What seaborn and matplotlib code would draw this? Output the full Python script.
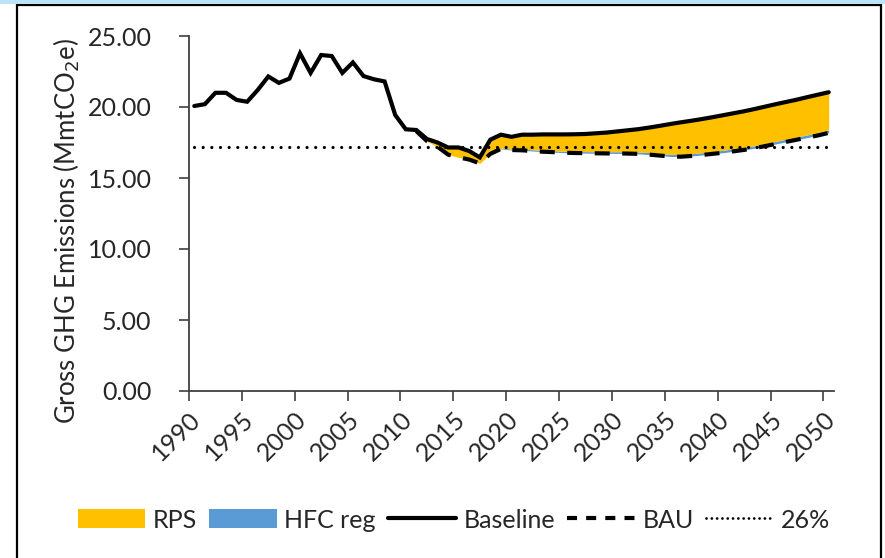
import numpy as np
import pandas as pd
import matplotlib
matplotlib.use("Agg")
import matplotlib.pyplot as plt
from matplotlib.patches import Rectangle, Patch
from matplotlib.lines import Line2D
import seaborn as sns

years = list(range(1990, 2051))

baseline = [20.07, 20.2, 21.0, 21.0, 20.5, 20.37, 21.2, 22.15, 21.7, 22.0,
            23.78, 22.4, 23.66, 23.59, 22.4, 23.14, 22.18, 21.95, 21.8, 19.44,
            18.43, 18.38, 17.75, 17.5, 17.15, 17.15, 16.9, 16.45, 17.7, 18.05,
            17.9, 18.05, 18.05, 18.07, 18.07, 18.07, 18.08, 18.1, 18.15, 18.2,
            18.28, 18.36, 18.44, 18.55, 18.67, 18.8, 18.92, 19.03, 19.15, 19.28,
            19.42, 19.56, 19.7, 19.86, 20.03, 20.2, 20.36, 20.52, 20.7, 20.87,
            21.04]

bau_years = list(range(2011, 2051))
bau = [18.3, 17.6, 17.2, 16.65, 16.45, 16.3, 16.03, 16.7, 17.05,
       16.97, 16.95, 16.9, 16.85, 16.82, 16.78, 16.76, 16.75, 16.74, 16.73,
       16.73, 16.72, 16.7, 16.65, 16.58, 16.52, 16.5, 16.55, 16.62, 16.7,
       16.78, 16.88, 16.98, 17.1, 17.25, 17.4, 17.55, 17.7, 17.85, 18.0,
       18.18]

hfc_reg = [0.0, 0.0, 0.0, 0.0, 0.0, 0.0, 0.0, 0.0, 0.05,
           0.08, 0.08, 0.09, 0.09, 0.1, 0.1, 0.1, 0.11, 0.11, 0.12,
           0.12, 0.13, 0.13, 0.14, 0.14, 0.15, 0.15, 0.16, 0.16, 0.16,
           0.17, 0.17, 0.17, 0.18, 0.18, 0.18, 0.19, 0.19, 0.19, 0.2,
           0.2]

target_26 = 17.15

xtick_years = list(range(1990, 2051, 5))
ytick_vals = [0, 5, 10, 15, 20, 25]

sns.set_style("white")
plt.rcParams['font.family'] = ['Lato', 'DejaVu Sans']

W, H = 885, 558
fig = plt.figure(figsize=(W / 100, H / 100), dpi=100)
ax = fig.add_axes([189 / W, 1 - 391 / H, (834 - 189) / W, (391 - 36) / H])

bau_arr = np.array(bau)
hfc_arr = np.array(hfc_reg)
base_sub = np.array(baseline[years.index(2011):])
ax.fill_between(bau_years, bau_arr, bau_arr + hfc_arr, color="#5B9BD5", lw=0, zorder=1)
ax.fill_between(bau_years, bau_arr + hfc_arr, base_sub, color="#FFC000", lw=0, zorder=1)

df_base = pd.DataFrame({"year": years, "value": baseline})
df_bau = pd.DataFrame({"year": bau_years, "value": bau})
df_t = pd.DataFrame({"year": years, "value": [target_26] * len(years)})

sns.lineplot(data=df_t, x="year", y="value", ax=ax, color="black", lw=2.3,
             linestyle=(0, (0.01, 2.7)), dash_capstyle="round", zorder=2)
sns.lineplot(data=df_bau, x="year", y="value", ax=ax, color="black", lw=3.0,
             linestyle=(0, (3.6, 3.0)), zorder=3)
sns.lineplot(data=df_base, x="year", y="value", ax=ax, color="black", lw=3.0,
             zorder=4, solid_joinstyle="miter")

ax.set_xlim(1989.5, 2050.5)
ax.set_ylim(0, 25)
ax.set_xticks([y - 0.5 for y in xtick_years])
ax.set_xticklabels([str(y) for y in xtick_years], rotation=45, ha="right",
                   rotation_mode="anchor", fontsize=18)
ax.set_yticks(ytick_vals)
ax.set_yticklabels([f"{v:.2f}" for v in ytick_vals], fontsize=18)
ax.tick_params(axis="both", direction="out", length=7, width=1.2, color="#404040",
               bottom=True, left=True)
ax.tick_params(axis="y", pad=20)
ax.tick_params(axis="x", pad=5)
for s in ["top", "right"]:
    ax.spines[s].set_visible(False)
for s in ["left", "bottom"]:
    ax.spines[s].set_color("#404040")
    ax.spines[s].set_linewidth(1.3)
ax.set_xlabel("")
ax.set_ylabel("Gross GHG Emissions (MmtCO$_2$e)", fontsize=18.5)
ax.yaxis.set_label_coords(-0.166, 0.45)

handles = [
    Patch(facecolor="#FFC000", edgecolor="none", label="RPS"),
    Patch(facecolor="#5B9BD5", edgecolor="none", label="HFC reg"),
    Line2D([0], [0], color="black", lw=3.0, label="Baseline"),
    Line2D([0], [0], color="black", lw=3.0, linestyle=(0, (2.4, 2.2)), label="BAU"),
    Line2D([0], [0], color="black", lw=2.0, linestyle=(0, (0.01, 1.9)),
           dash_capstyle="round", label="26%"),
]
fig.legend(handles=handles, loc="center", bbox_to_anchor=(0.513, 1 - 520 / H),
           ncol=5, frameon=False, fontsize=18, handlelength=2.7, handleheight=0.8,
           columnspacing=0.5, handletextpad=0.3)

fig.patches.append(Rectangle((17 / W, -0.01), (881 - 17) / W, 1 - 5 / H + 0.01,
                             transform=fig.transFigure, fill=False,
                             edgecolor="black", lw=1.6, zorder=0))
fig.patches.append(Rectangle((0, 1 - 4 / H), 1, 4 / H, transform=fig.transFigure,
                             facecolor="#BDE3F7", edgecolor="none", zorder=0))

fig.savefig("out.png", dpi=100)
